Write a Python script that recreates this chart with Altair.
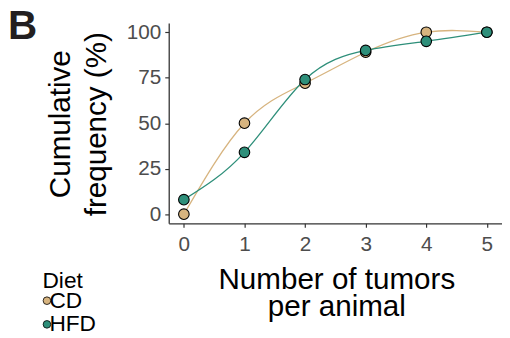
import altair as alt
import pandas as pd

tumors = [0, 1, 2, 3, 4, 5]
cd_freq = [0, 50, 72, 89, 100, 100]
hfd_freq = [8, 34, 74, 90, 95, 100]
diets = ["CD", "HFD"]
diet_colors = ["#D7B47F", "#2E8F7A"]
x_ticks = [0, 1, 2, 3, 4, 5]
y_ticks = [0, 25, 50, 75, 100]

df = pd.DataFrame({
    "tumors": tumors * 2,
    "freq": cd_freq + hfd_freq,
    "Diet": ["CD"] * len(tumors) + ["HFD"] * len(tumors),
})

FONT = "Liberation Sans"

x_enc = alt.X(
    "tumors:Q",
    scale=alt.Scale(domain=[-0.25, 5.25], nice=False, zero=False),
    axis=alt.Axis(
        values=x_ticks, format="d", grid=False,
        title=["Number of tumors", "per animal"],
        titleFontSize=30, titleFont=FONT, titleFontWeight="normal", titleColor="black",
        titleX=170, titleY=66, titleAlign="center", titleBaseline="alphabetic",
        titleLineHeight=28, titleAnchor="middle",
        labelFontSize=21, labelFont=FONT, labelColor="#4D4D4D", labelPadding=7,
        tickSize=4, tickColor="#333333", domainColor="#333333", domainWidth=1.3, tickWidth=1.2,
    ),
)
y_enc = alt.Y(
    "freq:Q",
    scale=alt.Scale(domain=[-5, 105], nice=False, zero=False),
    axis=alt.Axis(
        values=y_ticks, grid=False,
        title=["Cumulative", "frequency (%)"],
        titleFontSize=30, titleFont=FONT, titleFontWeight="normal", titleColor="black",
        titleAngle=270, titleX=-101, titleY=102, titleAlign="center", titleBaseline="alphabetic",
        titleLineHeight=37,
        labelFontSize=21, labelFont=FONT, labelColor="#4D4D4D", labelPadding=4,
        tickSize=4, tickColor="#333333", domainColor="#333333", domainWidth=1.3, tickWidth=1.2,
    ),
)
color_scale = alt.Scale(domain=diets, range=diet_colors)

base = alt.Chart(df)

line_layers = [
    base.transform_filter(alt.datum.Diet == d).mark_line(
        interpolate="natural", strokeWidth=1.3, color=c
    ).encode(x=x_enc, y=y_enc)
    for d, c in zip(diets, diet_colors)
]

points = base.mark_point(filled=True, size=115, stroke="black", strokeWidth=1.1, opacity=1).encode(
    x=x_enc, y=y_enc,
    color=alt.Color(
        "Diet:N", scale=color_scale,
        legend=alt.Legend(
            orient="none", legendX=-128, legendY=251,
            title="Diet", titleFontSize=23, titleFont=FONT, titleFontWeight="normal", titleColor="black",
            titlePadding=-4,
            labelFontSize=23, labelFont=FONT, labelColor="black",
            labelOffset={"expr": "-9"}, symbolOffset={"expr": "-7"},
            symbolType="circle", symbolSize=60, symbolStrokeColor="black", symbolStrokeWidth=0.8,
            rowPadding=-5, padding=0,
        ),
    ),
)

panel_letter = alt.Chart(pd.DataFrame({"t": ["B"]})).mark_text(
    font=FONT, fontSize=41, fontWeight="bold", align="left", baseline="alphabetic", color="#231F20"
).encode(
    text="t:N", x=alt.value(-163), y=alt.value(16)
)

chart = alt.layer(*line_layers, points, panel_letter).properties(
    width=338, height=203,
    padding={"left": 163, "top": 13, "right": 0, "bottom": 114},
    autosize=alt.AutoSizeParams(type="none"),
).configure_view(stroke=None)

chart.save("out.html", embed_options={"renderer": "svg", "actions": False})
